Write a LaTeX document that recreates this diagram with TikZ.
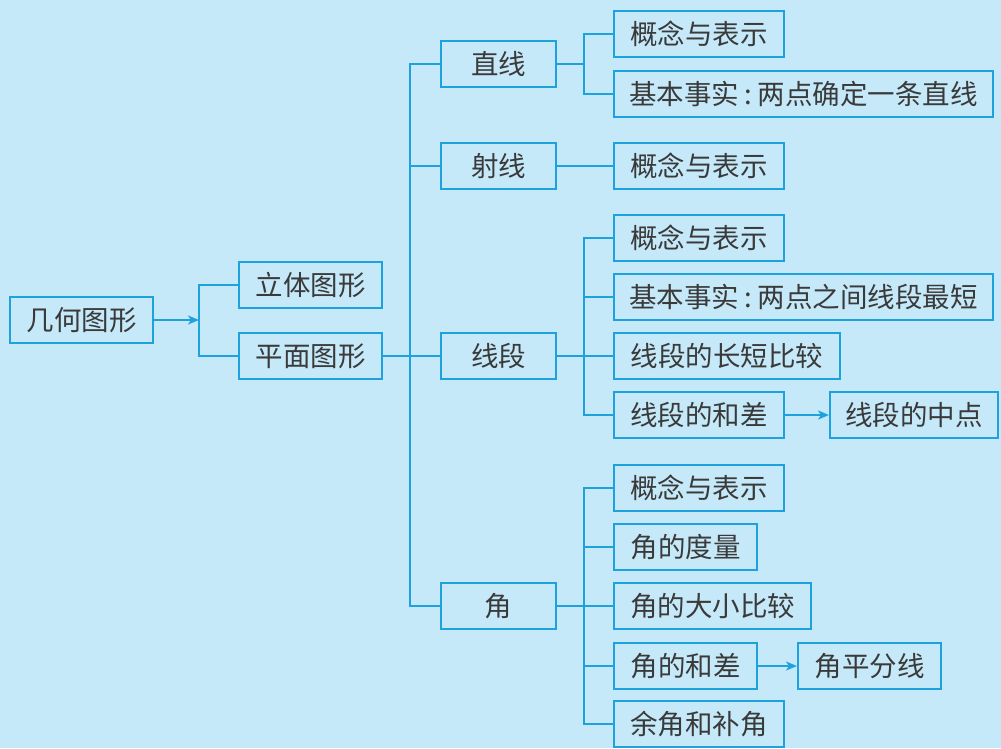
\documentclass[tikz,border=0pt]{standalone}
\usepackage{fontspec}
\newfontfamily\cjk{Noto Sans CJK SC}
\usepackage{tikz}
\usetikzlibrary{arrows.meta}
\definecolor{bgblue}{HTML}{C6E9F9}
\definecolor{lineblue}{HTML}{1DA2DE}
\definecolor{txtgray}{HTML}{3A3A3A}

\begin{document}
\begin{tikzpicture}[x=1pt,y=-1pt,
  box/.style={draw=lineblue,line width=2pt,minimum height=46pt,inner sep=0pt,
    anchor=west,text=txtgray,font=\cjk\fontsize{27.5}{30}\selectfont},
  link/.style={draw=lineblue,line width=2pt},
  sub/.style={link,-{Stealth[length=11pt,width=9pt,inset=3pt]}}]

    \fill[bgblue] (0,0) rectangle (1001,748);
    \useasboundingbox (0,0) rectangle (1001,748);

    % left part
    \node[box,minimum width=143](geo) at (9,320){几何图形};
    \node[box,minimum width=143](solid) at (238,285){立体图形};
    \node[box,minimum width=143](plane) at (238,356){平面图形};

    % middle column
    \node[box,minimum width=115](line) at (440,64){直线};
    \node[box,minimum width=115](ray) at (440,166){射线};
    \node[box,minimum width=115](seg) at (440,356){线段};
    \node[box,minimum width=115](angle) at (440,606){角};

    % right column
    \node[box,minimum width=170](line1) at (613,34){概念与表示};
    \node[box,minimum width=379](line2) at (613,94){基本事实\hspace{.2em}:\hspace{.2em}两点确定一条直线};
    \node[box,minimum width=170](ray1) at (613,166){概念与表示};

    \node[box,minimum width=170](seg1) at (613,238){概念与表示};
    \node[box,minimum width=379](seg2) at (613,297){基本事实\hspace{.2em}:\hspace{.2em}两点之间线段最短};
    \node[box,minimum width=226](seg3) at (613,356){线段的长短比较};
    \node[box,minimum width=170](seg4) at (613,415){线段的和差};
    \node[box,minimum width=168](seg5) at (829,415){线段的中点};

    \node[box,minimum width=170](ang1) at (613,488){概念与表示};
    \node[box,minimum width=143](ang2) at (613,547){角的度量};
    \node[box,minimum width=197](ang3) at (613,606){角的大小比较};
    \node[box,minimum width=143](ang4) at (613,666){角的和差};
    \node[box,minimum width=143](ang5) at (797,666){角平分线};
    \node[box,minimum width=170](ang6) at (613,724){余角和补角};

    \coordinate (jgeo) at (199,320);
    \coordinate (jplane) at (410,356);
    \coordinate (jline) at (584,64);
    \coordinate (jseg) at (584,356);
    \coordinate (jang) at (584,606);

    \draw[sub](geo) -- (jgeo);
    \draw[link](jgeo) |- (solid);
    \draw[link](jgeo) |- (plane);

    \draw[link](plane) -- (seg);
    \draw[link](jplane) |- (line);
    \draw[link](jplane) |- (ray);
    \draw[link](jplane) |- (angle);

    \draw[link](line) -- (jline);
    \draw[link](jline) |- (line1);
    \draw[link](jline) |- (line2);
    \draw[link](ray) -- (ray1);

    \draw[link](seg) -- (seg3);
    \draw[link](jseg) |- (seg1);
    \draw[link](jseg) |- (seg2);
    \draw[link](jseg) |- (seg4);
    \draw[sub](seg4) -- (seg5);

    \draw[link](angle) -- (ang3);
    \draw[link](jang) |- (ang1);
    \draw[link](jang) |- (ang2);
    \draw[link](jang) |- (ang4);
    \draw[link](jang) |- (ang6);
    \draw[sub](ang4) -- (ang5);
\end{tikzpicture}
\end{document}
